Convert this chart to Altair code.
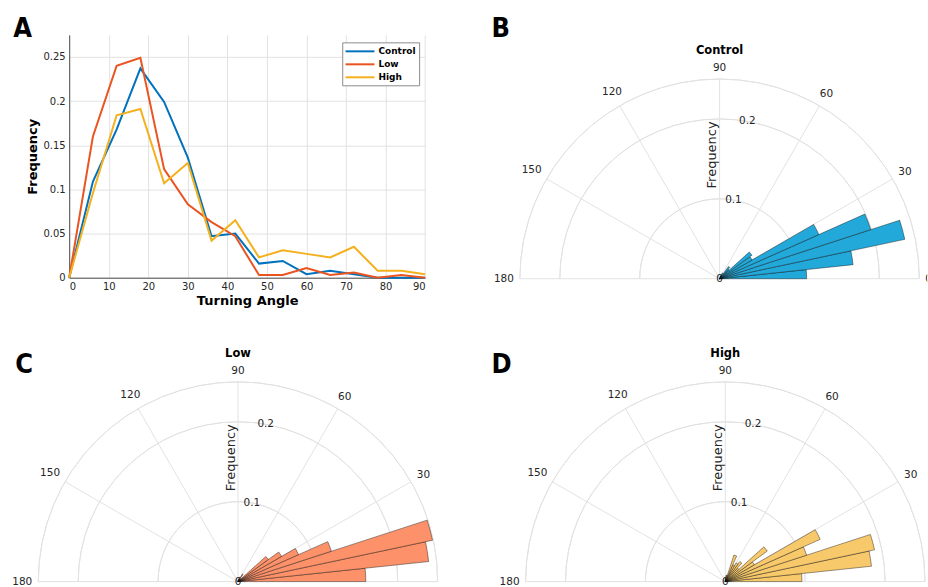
import math
import altair as alt
import pandas as pd

# ---------------- data ----------------
angles = [0, 6, 12, 18, 24, 30, 36, 42, 48, 54, 60, 66, 72, 78, 84, 90]
control = [0.0, 0.109, 0.168, 0.237, 0.199, 0.136, 0.047, 0.050, 0.016, 0.019, 0.004, 0.008, 0.004, 0.0, 0.0, 0.0]
low = [0.0, 0.160, 0.240, 0.249, 0.123, 0.083, 0.063, 0.047, 0.003, 0.003, 0.011, 0.003, 0.006, 0.0, 0.003, 0.0]
high = [0.0, 0.096, 0.184, 0.191, 0.107, 0.130, 0.042, 0.065, 0.023, 0.031, 0.027, 0.023, 0.035, 0.008, 0.008, 0.004]
groups = ["Control", "Low", "High"]
line_colors = ["#0072BD", "#EA5420", "#F4B01E"]
rose_colors = ["#22A9DA", "#FC916A", "#F8C96B"]
x_ticks = [0, 10, 20, 30, 40, 50, 60, 70, 80, 90]
y_ticks = [0, 0.05, 0.1, 0.15, 0.2, 0.25]
theta_ticks = [0, 30, 60, 90, 120, 150, 180]
r_ticks = [0, 0.1, 0.2]
r_rings = [0.1, 0.2, 0.25]
R_MAX = 0.25

# ---------------- layout constants ----------------
R_PX = 200.0
PX = R_PX / R_MAX            # pixels per frequency unit
A_W, A_H = 356.4, 243.2
B_W, B_H = 482.3, 255.0
C_W, C_H = 356.4, 244.0
COL_SP, ROW_SP = 20, 55.5
TICK_FS = 10
POLAR_FS = 10.5
LETTER_FONT = "Liberation Sans Narrow, DejaVu Sans Condensed, sans-serif"
GRID = "#E2E2E2"
TXT = "#262626"


def letter(t, dx, off):
    return alt.TitleParams(text=t, anchor="start", frame="group", dx=dx, dy=3.5,
                           offset=off, baseline="alphabetic", fontSize=27,
                           font=LETTER_FONT, fontWeight="bold", color="black")


# ---------------- panel A ----------------
line_df = pd.DataFrame({
    "angle": angles * 3,
    "freq": control + low + high,
    "group": [g for g in groups for _ in angles],
})

panel_a = alt.Chart(line_df).mark_line(strokeWidth=2).encode(
    x=alt.X("angle:Q", scale=alt.Scale(domain=[0, 90], nice=False),
            axis=alt.Axis(values=x_ticks, title="Turning Angle", ticks=False,
                          labelPadding=4, titlePadding=3, labelFontSize=TICK_FS,
                          labelColor=TXT, titleFontSize=13, titleFontWeight="bold",
                          titleColor="black", gridColor=GRID, domainColor=TXT,
                          domainWidth=0.8)),
    y=alt.Y("freq:Q", scale=alt.Scale(domain=[0, 0.275], nice=False),
            axis=alt.Axis(values=y_ticks, format="~g", title="Frequency", ticks=False,
                          labelPadding=4, titlePadding=3, labelFontSize=TICK_FS,
                          labelColor=TXT, titleFontSize=13, titleFontWeight="bold",
                          titleColor="black", gridColor=GRID, domainColor=TXT,
                          domainWidth=0.8)),
    color=alt.Color("group:N", sort=groups,
                    scale=alt.Scale(domain=groups, range=line_colors),
                    legend=alt.Legend(title=None, orient="none", legendX=273.4, legendY=7.5,
                                      direction="vertical", padding=3, strokeColor="#8C8C8C",
                                      fillColor="white", labelFont="DejaVu Sans",
                                      labelFontWeight="bold", labelFontSize=9,
                                      labelColor="black", symbolType="M-1.14,0H4.66",
                                      symbolSize=100, symbolStrokeWidth=2,
                                      labelOffset=21.3, rowPadding=2)),
).properties(width=A_W, height=A_H, title=letter("A", -56, -25.7))


# ---------------- polar panels ----------------
def polar(values, color, name, let, let_dx, let_off, w, h, cx_px, cy_px):
    xs = alt.Scale(domain=[-cx_px / PX, (w - cx_px) / PX], nice=False, zero=False)
    ys = alt.Scale(domain=[-(h - cy_px) / PX, cy_px / PX], nice=False, zero=False)
    rs = alt.Scale(type="linear", domain=[0, R_MAX], range=[0, R_PX])

    def X(f):
        return alt.X(f, scale=xs, axis=None)

    def Y(f):
        return alt.Y(f, scale=ys, axis=None)

    rings = pd.DataFrame({"cx": 0.0, "cy": 0.0, "r": r_rings,
                          "t0": -math.pi / 2, "t1": math.pi / 2})
    ring_layer = alt.Chart(rings).mark_arc(filled=False, stroke=GRID, strokeWidth=1).encode(
        x=X("cx:Q"), y=Y("cy:Q"),
        theta=alt.Theta("t0:Q", scale=None), theta2="t1:Q",
        radius=alt.Radius("r:Q", scale=rs), radius2="r:Q")

    spokes = pd.DataFrame({
        "x0": 0.0, "y0": 0.0,
        "x1": [R_MAX * math.cos(math.radians(t)) for t in theta_ticks],
        "y1": [R_MAX * math.sin(math.radians(t)) for t in theta_ticks],
    })
    spoke_layer = alt.Chart(spokes).mark_rule(stroke=GRID, strokeWidth=1).encode(
        x=X("x0:Q"), y=Y("y0:Q"), x2="x1:Q", y2="y1:Q")

    tl = []
    for t in theta_ticks:
        s = str(t)
        hw = 0.318 * POLAR_FS * len(s)
        hh = 0.5 * POLAR_FS
        a = math.radians(t)
        rp = R_PX + 6 + hw * abs(math.cos(a)) + hh * abs(math.sin(a))
        tl.append({"x": rp * math.cos(a) / PX, "y": rp * math.sin(a) / PX, "label": s,
                   "edge": t == 0})
    tl_df = pd.DataFrame(tl)
    theta_lab = alt.Chart(tl_df[~tl_df["edge"]]).mark_text(
        fontSize=POLAR_FS, color=TXT, align="center", baseline="middle").encode(
        x=X("x:Q"), y=Y("y:Q"), text="label:N")
    # the 0-degree label sits on the right border of the figure: clip it to the panel
    theta_edge = alt.Chart(tl_df[tl_df["edge"]]).mark_text(
        fontSize=POLAR_FS, color=TXT, align="center", baseline="middle", clip=True).encode(
        x=X("x:Q"), y=Y("y:Q"), text="label:N")

    rl_df = pd.DataFrame({
        "x": [r * math.cos(math.radians(80)) for r in r_ticks],
        "y": [r * math.sin(math.radians(80)) for r in r_ticks],
        "label": [f"{r:g}" for r in r_ticks],
    })
    r_lab = alt.Chart(rl_df).mark_text(fontSize=POLAR_FS, color=TXT, align="center",
                                       baseline="middle").encode(
        x=X("x:Q"), y=Y("y:Q"), text="label:N")

    misc = pd.DataFrame({"x": [-0.009], "y": [0.155], "label": ["Frequency"]})
    freq_lab = alt.Chart(misc).mark_text(fontSize=13, color=TXT, angle=270, align="center",
                                         baseline="middle").encode(
        x=X("x:Q"), y=Y("y:Q"), text="label:N")

    tdf = pd.DataFrame({"x": [0.0], "y": [0.2855], "label": [name]})
    title_lab = alt.Chart(tdf).mark_text(fontSize=11.5, fontWeight="bold", color="black",
                                         align="center", baseline="middle").encode(
        x=X("x:Q"), y=Y("y:Q"), text="label:N")

    bars = pd.DataFrame({
        "cx": 0.0, "cy": 0.0,
        "lo": angles[:-1], "hi": angles[1:],
        "freq": values[1:],
        "r0": 0.0,
    })
    bars["t0"] = (90 - bars["hi"]) * math.pi / 180
    bars["t1"] = (90 - bars["lo"]) * math.pi / 180
    bar_layer = alt.Chart(bars).mark_arc(fill=color, stroke="black", strokeWidth=0.5,
                                         strokeOpacity=0.8).encode(
        x=X("cx:Q"), y=Y("cy:Q"),
        theta=alt.Theta("t0:Q", scale=None), theta2="t1:Q",
        radius=alt.Radius("freq:Q", scale=rs), radius2="r0:Q")

    return alt.layer(ring_layer, spoke_layer, theta_lab, theta_edge, r_lab, freq_lab,
                     title_lab, bar_layer).properties(width=w, height=h,
                                                      title=letter(let, let_dx, let_off))


panel_b = polar(control, rose_colors[0], "Control", "B", 46, -25.7, B_W, B_H,
                720 - 445.7, 276.7 - 32.5)
panel_c = polar(low, rose_colors[1], "Low", "C", -54, -51.5, C_W, C_H,
                238.3 - 69.3, 580 - 343.0)
panel_d = polar(high, rose_colors[2], "High", "D", 46, -51.5, B_W, C_H,
                725.7 - 445.7, 580 - 343.0)

chart = alt.concat(
    panel_a, panel_b, panel_c, panel_d, columns=2,
    spacing={"row": ROW_SP, "column": COL_SP}, bounds="flush",
).properties(
    padding={"left": 11.3, "top": 14.5, "right": 0, "bottom": 0}
).configure(font="DejaVu Sans").configure_view(stroke=None)

chart.save("out.html", embed_options={"renderer": "svg", "actions": False})
